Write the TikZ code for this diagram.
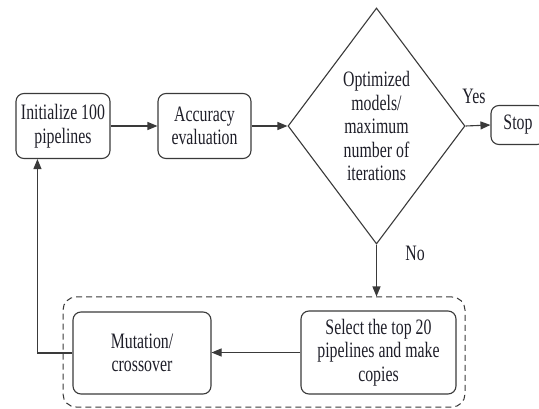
\documentclass[tikz,border=0pt]{standalone}
\usepackage{fontspec}
\setmainfont{Liberation Serif}[FakeStretch=0.72]
\usetikzlibrary{shapes.geometric,arrows.meta}
\definecolor{linec}{HTML}{3A3A3A}
\definecolor{textc}{HTML}{1E1E28}
\begin{document}
\begin{tikzpicture}[x=1pt,y=-1pt,
  every node/.style={font=\fontsize{22}{23.5}\selectfont, text=textc, align=center, inner sep=0pt},
  box/.style={draw=linec, line width=1.1pt, rounded corners=8pt, rectangle},
  dec/.style={draw=linec, line width=1.1pt, diamond},
  grpbox/.style={draw=linec, line width=1pt, dash pattern=on 6pt off 4pt, rounded corners=13pt, rectangle},
  arr/.style={draw=linec, line width=1.1pt, -{Triangle[length=10pt,width=8pt]}},
  lbl/.style={font=\fontsize{22}{23.5}\selectfont}
]
\useasboundingbox (0,0) rectangle (539,409);
\clip (0,0) rectangle (539,409);

\node[box, minimum width=94pt, minimum height=65pt] (init) at (63,126) {Initialize 100\\pipelines};
\node[box, minimum width=93pt, minimum height=65pt] (acc) at (204.5,126) {Accuracy\\evaluation};
\node[dec, minimum width=177pt, minimum height=236pt] (cond) at (376.5,126) {Optimized\\models/\\maximum\\number of\\iterations};
\node[box, minimum width=54pt, minimum height=39pt] (stop) at (518,125) {Stop};

\node[grpbox, minimum width=402pt, minimum height=110pt] (grp) at (264,352) {};
\node[box, minimum width=138pt, minimum height=82pt] (mut) at (142,353) {Mutation/\\crossover};
\node[box, minimum width=155pt, minimum height=83pt] (sel) at (378.5,352.5) {Select the top 20\\pipelines and make\\copies};

\node[lbl] (yes) at (474,96) {Yes};
\node[lbl] (no) at (415,253) {No};

\draw[arr] (init.east) -- (acc.west);
\draw[arr] (acc.east) -- (cond.west);
\draw[arr] (cond.east) -- (stop.west);
\draw[arr] (cond.south) -- (cond.south |- grp.north);
\draw[arr] (sel.west) -- (sel.west -| mut.east);
\draw[arr] (mut.west) -| ([xshift=22pt]init.south west);
\end{tikzpicture}
\end{document}
